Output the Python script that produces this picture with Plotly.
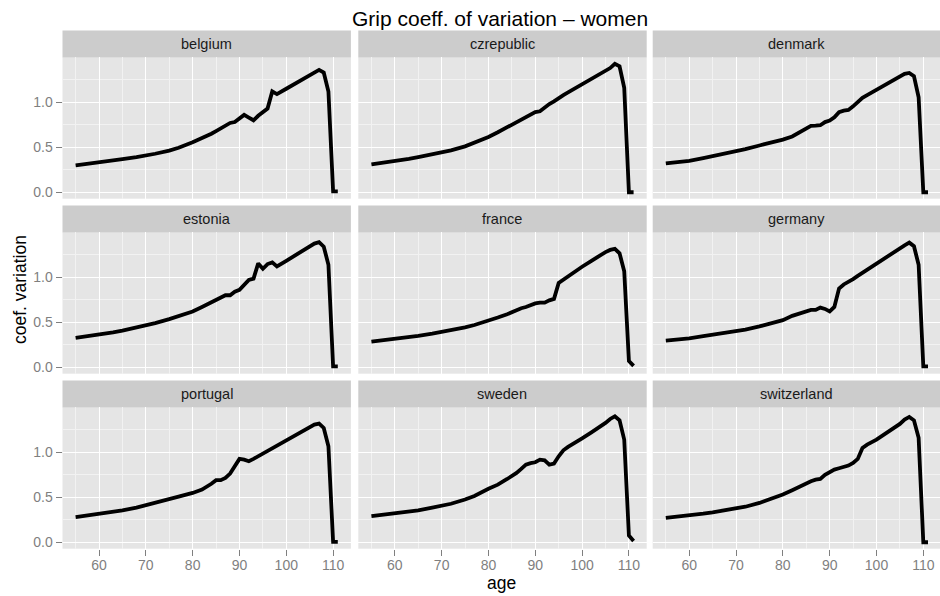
import plotly.graph_objects as go

# Ages at which the coefficient of variation is reported
AGES = [55, 58, 60, 63, 65, 68, 70, 72, 75, 77, 80, 82, 84, 85, 86, 87, 88, 89, 90,
        91, 92, 93, 94, 95, 96, 97, 98, 100, 102, 104, 105, 106, 107, 108, 109, 110, 111]

COUNTRIES = ["belgium", "czrepublic", "denmark",
             "estonia", "france", "germany",
             "portugal", "sweden", "switzerland"]

belgium = [0.300, 0.317, 0.330, 0.352, 0.367, 0.390, 0.407, 0.428, 0.463, 0.495, 0.555,
           0.60, 0.65, 0.68, 0.71, 0.75, 0.77, 0.78, 0.82, 0.86, 0.83, 0.80, 0.85, 0.89,
           0.93, 1.12, 1.09, 1.15, 1.21, 1.27, 1.30, 1.34, 1.36, 1.33, 1.12, 0.01, 0.01]
czrepublic = [0.31, 0.33, 0.344, 0.37, 0.39, 0.42, 0.442, 0.465, 0.51, 0.55, 0.615,
              0.667, 0.72, 0.75, 0.78, 0.80, 0.83, 0.86, 0.89, 0.90, 0.944, 0.98, 1.01, 1.05,
              1.08, 1.11, 1.14, 1.20, 1.255, 1.315, 1.345, 1.38, 1.427, 1.40, 1.16, 0.0, 0.0]
denmark = [0.32, 0.337, 0.35, 0.38, 0.40, 0.432, 0.455, 0.48, 0.52, 0.545, 0.585,
           0.62, 0.68, 0.715, 0.737, 0.74, 0.745, 0.78, 0.796, 0.833, 0.89, 0.907, 0.915, 0.955,
           1.01, 1.05, 1.08, 1.137, 1.196, 1.25, 1.28, 1.315, 1.326, 1.29, 1.056, 0.0, 0.0]
estonia = [0.326, 0.345, 0.36, 0.387, 0.407, 0.438, 0.46, 0.49, 0.535, 0.568, 0.62,
           0.67, 0.718, 0.747, 0.773, 0.80, 0.80, 0.84, 0.86, 0.92, 0.97, 0.985, 1.154, 1.095,
           1.147, 1.165, 1.12, 1.183, 1.25, 1.31, 1.34, 1.374, 1.39, 1.34, 1.14, 0.01, 0.01]
france = [0.286, 0.303, 0.315, 0.335, 0.35, 0.373, 0.39, 0.41, 0.443, 0.47, 0.516,
          0.553, 0.59, 0.615, 0.637, 0.656, 0.67, 0.69, 0.71, 0.718, 0.718, 0.744, 0.76, 0.937,
          0.974, 1.01, 1.048, 1.117, 1.183, 1.25, 1.28, 1.304, 1.315, 1.267, 1.066, 0.07, 0.015]
germany = [0.297, 0.311, 0.322, 0.345, 0.36, 0.38, 0.395, 0.418, 0.454, 0.48, 0.524,
           0.571, 0.60, 0.615, 0.637, 0.637, 0.663, 0.648, 0.62, 0.67, 0.875, 0.92, 0.945, 0.98,
           1.015, 1.05, 1.08, 1.15, 1.22, 1.29, 1.32, 1.355, 1.385, 1.345, 1.14, 0.01, 0.01]
portugal = [0.28, 0.30, 0.315, 0.338, 0.355, 0.385, 0.41, 0.437, 0.48, 0.507, 0.548,
            0.585, 0.65, 0.69, 0.69, 0.715, 0.763, 0.85, 0.926, 0.918, 0.90, 0.926, 0.955, 0.985,
            1.015, 1.044, 1.074, 1.133, 1.19, 1.25, 1.28, 1.307, 1.318, 1.27, 1.067, 0.005, 0.005]
sweden = [0.29, 0.307, 0.318, 0.34, 0.355, 0.385, 0.405, 0.428, 0.475, 0.515, 0.595,
          0.64, 0.703, 0.733, 0.77, 0.815, 0.863, 0.88, 0.889, 0.918, 0.91, 0.863, 0.874, 0.955,
          1.022, 1.06, 1.089, 1.155, 1.222, 1.289, 1.326, 1.37, 1.40, 1.355, 1.14, 0.074, 0.015]
switzerland = [0.27, 0.285, 0.296, 0.318, 0.333, 0.356, 0.374, 0.395, 0.437, 0.47, 0.53,
               0.578, 0.63, 0.652, 0.678, 0.696, 0.704, 0.75, 0.778, 0.807, 0.822, 0.837, 0.852, 0.881,
               0.926, 1.048, 1.085, 1.14, 1.207, 1.28, 1.315, 1.363, 1.393, 1.355, 1.16, 0.0, 0.0]

SERIES = [belgium, czrepublic, denmark, estonia, france, germany,
          portugal, sweden, switzerland]

X_TICKS = [60, 70, 80, 90, 100, 110]
X_MINOR = [55, 65, 75, 85, 95, 105]
Y_TICKS = [0.0, 0.5, 1.0]
Y_MINOR = [0.25, 0.75, 1.25]

W, H = 940, 596
FONT = "Liberation Sans"
GREY50 = "#7F7F7F"

# Panel geometry in pixels
COL_LEFT = [62.5, 358.3, 652.7]
PANEL_W = 288.4
ROW_TOP = [57.4, 232.4, 407.4]
PANEL_H = 141.3
STRIP_H = 26.9

X_RANGE = [52.2, 113.8]
Y_RANGE = [-0.0714, 1.4985]

fig = go.Figure()
layout = dict(
    width=W, height=H,
    margin=dict(l=0, r=0, t=0, b=0),
    paper_bgcolor="white",
    plot_bgcolor="#E5E5E5",
    showlegend=False,
    shapes=[], annotations=[],
)

for i, (name, vals) in enumerate(zip(COUNTRIES, SERIES)):
    r, c = divmod(i, 3)
    k = i + 1
    left = COL_LEFT[c]
    right = left + PANEL_W
    xr = list(X_RANGE)
    if right > W:
        xr[1] = X_RANGE[0] + (W - left) / PANEL_W * (X_RANGE[1] - X_RANGE[0])
        right = W
    top = ROW_TOP[r]
    bottom = top + PANEL_H

    fig.add_trace(go.Scatter(
        x=AGES, y=vals, mode="lines",
        line=dict(color="black", width=3.8),
        xaxis=f"x{k}", yaxis=f"y{k}", hoverinfo="skip",
    ))

    show_x = r == 2
    show_y = c == 0
    layout[f"xaxis{k}"] = dict(
        domain=[left / W, right / W], range=xr, anchor=f"y{k}",
        tickvals=X_TICKS, showticklabels=show_x,
        ticks="outside" if show_x else "", ticklen=6, tickwidth=1, tickcolor=GREY50,
        ticklabelstandoff=-3,
        tickfont=dict(family=FONT, size=14, color=GREY50),
        showgrid=True, gridcolor="white", gridwidth=1.3,
        minor=dict(tickvals=X_MINOR, showgrid=True, gridcolor="#F2F2F2", gridwidth=0.7, ticks=""),
        zeroline=False, showline=False, fixedrange=True,
    )
    layout[f"yaxis{k}"] = dict(
        domain=[1 - bottom / H, 1 - top / H], range=Y_RANGE, anchor=f"x{k}",
        tickvals=Y_TICKS, tickformat=".1f", showticklabels=show_y,
        ticks="outside" if show_y else "", ticklen=6, tickwidth=1, tickcolor=GREY50,
        tickfont=dict(family=FONT, size=14, color=GREY50),
        showgrid=True, gridcolor="white", gridwidth=1.3,
        minor=dict(tickvals=Y_MINOR, showgrid=True, gridcolor="#F2F2F2", gridwidth=0.7, ticks=""),
        zeroline=False, showline=False, fixedrange=True,
    )

    # facet strip
    layout["shapes"].append(dict(
        type="rect", xref="paper", yref="paper",
        x0=left / W, x1=right / W,
        y0=1 - top / H, y1=1 - (top - STRIP_H) / H,
        fillcolor="#CCCCCC", line=dict(width=0), layer="below",
    ))
    layout["annotations"].append(dict(
        text=name, xref="paper", yref="paper",
        x=(left + left + PANEL_W) / 2 / W, y=1 - (top - STRIP_H / 2) / H,
        xanchor="center", yanchor="middle", showarrow=False,
        font=dict(family=FONT, size=14.5, color="#1A1A1A"),
    ))

# titles
layout["annotations"] += [
    dict(text="Grip coeff. of variation \u2013 women", xref="paper", yref="paper",
         x=500 / W, y=1 - 18 / H, xanchor="center", yanchor="middle", showarrow=False,
         font=dict(family=FONT, size=21, color="black")),
    dict(text="age", xref="paper", yref="paper",
         x=501 / W, y=1 - 583 / H, xanchor="center", yanchor="middle", showarrow=False,
         font=dict(family=FONT, size=17.5, color="black")),
    dict(text="coef. variation", xref="paper", yref="paper", textangle=-90,
         x=20 / W, y=1 - 290 / H, xanchor="center", yanchor="middle", showarrow=False,
         font=dict(family=FONT, size=17.5, color="black")),
]

fig.update_layout(**layout)
fig.write_html("out.html", config={"displayModeBar": False})
